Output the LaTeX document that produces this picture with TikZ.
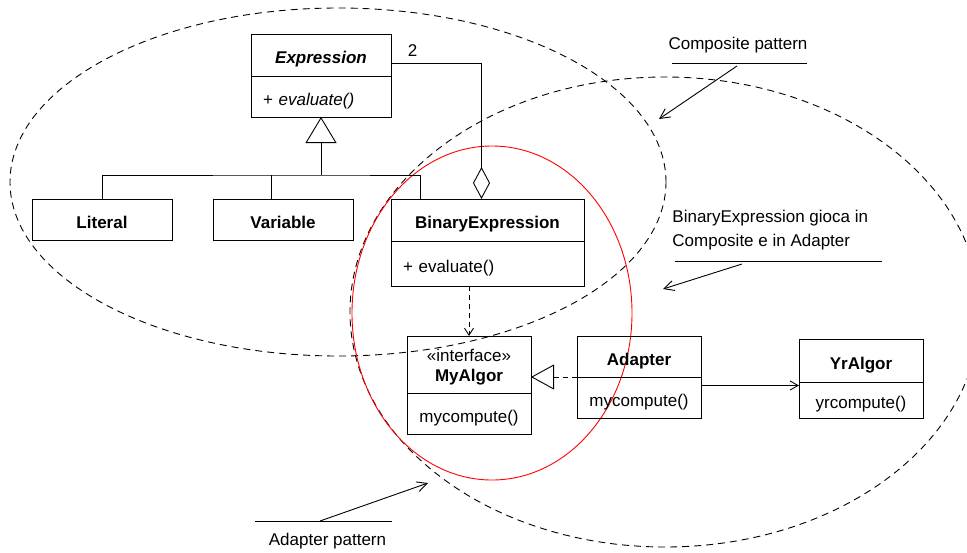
\documentclass[tikz,border=0pt]{standalone}
\usepackage{fontspec}
\setmainfont{Liberation Sans}
\usetikzlibrary{positioning,arrows.meta}

\tikzset{
  classpart/.style={draw, inner sep=0pt, outer sep=0pt, text height=1.15em, text depth=0.15em},
  leftpart/.style={classpart, text width=#1, align=left, inner xsep=12pt},
  note/.style={inner sep=0pt},
  patternline/.style={dash pattern=on 7pt off 5pt},
  inherit/.style={-{Triangle[open,length=26pt,width=31pt]}},
  aggregate/.style={-{Diamond[open,length=32pt,width=17pt]}},
  depend/.style={dash pattern=on 5pt off 4pt,-{Straight Barb[length=7pt,width=9pt]}},
  realize/.style={dash pattern=on 5pt off 4pt,-{Triangle[open,length=23pt,width=25pt]}},
  assoc/.style={-{Straight Barb[length=8pt,width=9pt]}},
  notearrow/.style={-{Straight Barb[length=10pt,width=10pt]}}
}

\begin{document}
\fontsize{17}{20}\selectfont
\begin{tikzpicture}[x=1pt,y=-1pt,line width=0.9pt]
  \useasboundingbox (0,0) rectangle (967,552);
  \clip (0,0) rectangle (967,552);

  % the two patterns and the class playing in both
  \draw [patternline] (338,182) ellipse [x radius=328pt, y radius=174pt];	% Composite
  \draw [patternline] (665,312) ellipse [x radius=315pt, y radius=235pt];	% Adapter
  \draw [red] (492,313) ellipse [x radius=140pt, y radius=167pt];

  % Composite
  \node [classpart, minimum width=140pt, minimum height=42pt, font=\bfseries\itshape] (exprh) at (321,55) {Expression};
  \node [leftpart=116pt, minimum height=41pt, below=0pt of exprh] (exprb) {+ \textit{evaluate()}};
  \node [classpart, minimum width=140pt, minimum height=41pt, font=\bfseries] (literal) at (102,219.5) {Literal};
  \node [classpart, minimum width=140pt, minimum height=41pt, font=\bfseries] (variable) at (283,219.5) {Variable};
  \node [classpart, minimum width=193pt, minimum height=42pt, font=\bfseries] (binh) at (487.5,220) {BinaryExpression};
  \node [leftpart=169pt, minimum height=45pt, below=0pt of binh] (binb) {+ evaluate()};

  \coordinate (base) at (literal.north -| exprb.south);
  \coordinate (hub) at ([yshift=24pt]base);
  \coordinate (varfoot) at ([xshift=-12pt]variable.north);
  \coordinate (binfoot) at ([xshift=29pt]binh.north west);
  \draw [inherit] (hub) -- (exprb.south);
  \draw (literal.north) |- (hub) -- (hub -| binfoot) -- (binfoot);
  \draw (varfoot) -- (varfoot |- hub);
  \draw [aggregate] ([yshift=-8pt]exprh.east) -| ([xshift=-6pt]binh.north) node [pos=0.12, above] {2};

  % Adapter
  \node [draw, inner sep=0pt, outer sep=0pt, minimum width=124pt, minimum height=57pt, font=\bfseries, align=center] (myalgorh) at (469,364.5) {\rule{0pt}{17pt}{\mdseries «interface»}\\MyAlgor};
  \node [classpart, minimum width=124pt, minimum height=41pt, below=0pt of myalgorh] (myalgorb) {mycompute()};
  \node [classpart, minimum width=124pt, minimum height=41pt, font=\bfseries] (adapterh) at (639,356.5) {Adapter};
  \node [classpart, minimum width=124pt, minimum height=41pt, below=0pt of adapterh] (adapterb) {mycompute()};
  \node [classpart, minimum width=124pt, minimum height=43pt, font=\bfseries] (yralgorh) at (861,360.5) {YrAlgor};
  \node [classpart, minimum width=124pt, minimum height=36pt, below=0pt of yralgorh] (yralgorb) {yrcompute()};

  \draw [depend] (binb.south -| myalgorh.north) -- (myalgorh.north);
  \draw [realize] (adapterb.north west) -- (adapterb.north west -| myalgorh.east);
  \draw [assoc] ([yshift=12pt]adapterb.east) -- ([yshift=12pt]adapterb.east -| yralgorb.west);

  % notes
  \node [note] (complabel) at (738,45) {Composite pattern};
  \draw (672,63) -- (807,63);
  \coordinate (compfrom) at (737,66);
  \coordinate (compto) at (659,119);
  \draw [notearrow] (compfrom) -- (compto);

  \node [note, align=left, anchor=west] (bothlabel) at (672,230) {BinaryExpression gioca in\\[4pt]Composite e in Adapter};
  \draw (675,261) -- (882,261);
  \coordinate (bothfrom) at (742,264);
  \coordinate (bothto) at (663,289);
  \draw [notearrow] (bothfrom) -- (bothto);

  \node [note] (adaptlabel) at (327.5,541) {Adapter pattern};
  \draw (255,521) -- (392,521);
  \coordinate (adaptfrom) at (320,521);
  \coordinate (adaptto) at (428,483);
  \draw [notearrow] (adaptfrom) -- (adaptto);
\end{tikzpicture}
\end{document}
